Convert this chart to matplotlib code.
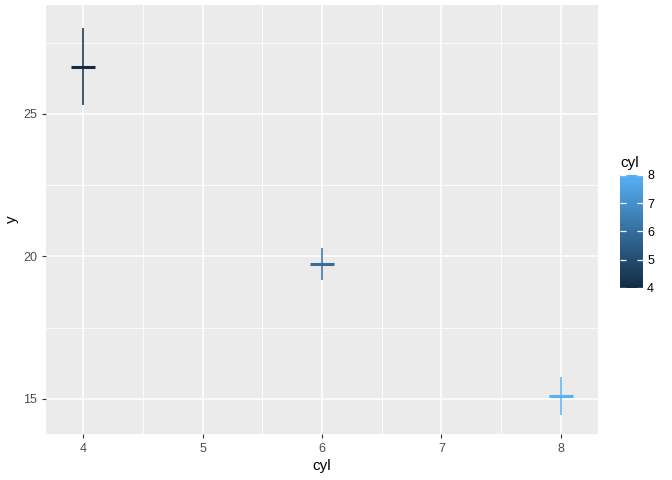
import numpy as np
import matplotlib.pyplot as plt
from matplotlib.colors import LinearSegmentedColormap, Normalize
from matplotlib.colorbar import ColorbarBase

plt.rcParams['font.family'] = ['Liberation Sans', 'DejaVu Sans']

# mean mpg by cyl with mean +/- se
cyl = [4, 6, 8]
mpg_mean = [26.66, 19.74, 15.10]
mpg_lo = [25.30, 19.19, 14.42]
mpg_hi = [28.03, 20.29, 15.78]

cmap = LinearSegmentedColormap.from_list('gg', ['#132B43', '#56B1F7'])
norm = Normalize(vmin=4, vmax=8)

fig = plt.figure(figsize=(6.72, 4.8), dpi=100)
ax = fig.add_axes([46 / 672, 46 / 480, 552 / 672, 429 / 480])
ax.set_facecolor('#EBEBEB')

for c, m, lo, hi in zip(cyl, mpg_mean, mpg_lo, mpg_hi):
    col = cmap(norm(c))
    ax.vlines(c, lo, hi, color=col, linewidth=1.1, zorder=3)
    ax.hlines(m, c - 0.1, c + 0.1, color=col, linewidth=2.2, zorder=3)

ax.set_xlim(3.69, 8.31)
ax.set_ylim(13.77, 28.82)
ax.set_xticks([4, 5, 6, 7, 8])
ax.set_yticks([15, 20, 25])
ax.set_xticks([4.5, 5.5, 6.5, 7.5], minor=True)
ax.set_yticks([17.5, 22.5, 27.5], minor=True)
ax.grid(True, which='major', color='white', linewidth=1.1)
ax.grid(True, which='minor', color='white', linewidth=0.55)
ax.set_axisbelow(True)
for s in ax.spines.values():
    s.set_visible(False)
ax.tick_params(which='major', length=3, color='#333333', labelcolor='#4D4D4D', labelsize=9)
ax.tick_params(which='minor', length=0)
ax.set_xlabel('cyl', fontsize=11, labelpad=3)
ax.set_ylabel('y', fontsize=11, labelpad=3)

cax = fig.add_axes([620 / 672, (480 - 288) / 480, 23 / 672, 113 / 480])
cb = ColorbarBase(cax, cmap=cmap, norm=norm, ticks=[4, 5, 6, 7, 8])
cb.outline.set_visible(False)
cax.tick_params(length=4.5, color='white', width=0.9, direction='in', labelsize=9,
                pad=3, left=True, right=True, labelleft=False, labelright=True)
cax.set_title('cyl', fontsize=11, loc='left', pad=6)

fig.savefig('out.png', dpi=100)
